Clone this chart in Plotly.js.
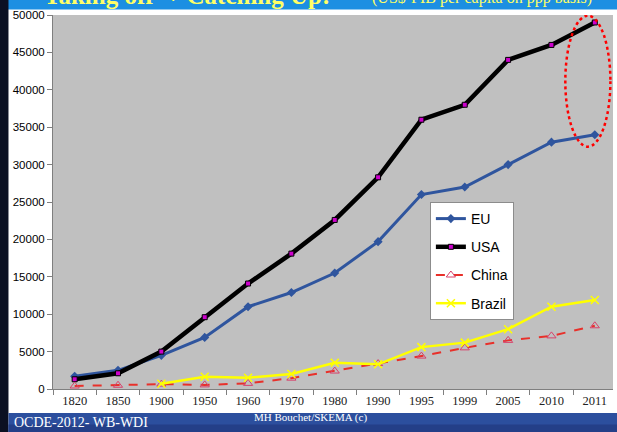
<!DOCTYPE html>
<html>
<head>
<meta charset="utf-8">
<script src="https://cdn.plot.ly/plotly-3.0.1.min.js"></script>
<style>
  html, body { margin: 0; padding: 0; background: #ffffff; }
  #chart { width: 617px; height: 432px; }
</style>
</head>
<body>
<div id="chart"></div>
<script>
// GDP per capita (US$, PPP basis)
const years  = ['1820','1850','1900','1950','1960','1970','1980','1990','1995','1999','2005','2010','2011'];
const eu     = [1700, 2500, 4500, 6900, 11000, 12900, 15500, 19700, 26000, 27000, 30000, 33000, 34000];
const usa    = [1300, 2100, 5000, 9600, 14100, 18100, 22600, 28300, 36000, 38000, 44000, 46000, 49000];
const china  = [400, 500, 650, 550, 750, 1450, 2400, 3400, 4400, 5500, 6500, 7100, 8450];
const brazil = [null, null, 700, 1650, 1500, 2000, 3500, 3300, 5600, 6200, 8000, 11000, 11900];

const traces = [
  {
    name: 'EU', x: years, y: eu, type: 'scatter', mode: 'lines+markers',
    line: { color: '#2f559e', width: 3 },
    marker: { symbol: 'diamond', size: 7, color: '#2f559e' },
    legendgroup: 'a'
  },
  {
    name: 'USA', x: years, y: usa, type: 'scatter', mode: 'lines+markers',
    line: { color: '#000000', width: 4.5 },
    marker: { symbol: 'square', size: 5, color: '#cc00cc', line: { color: '#000000', width: 1 } },
    legendgroup: 'b'
  },
  {
    name: 'China', x: years, y: china, type: 'scatter', mode: 'lines+markers',
    line: { color: '#e8302a', width: 2, dash: 'dash' },
    marker: { symbol: 'triangle-up-open', size: 8, color: '#d8406a', line: { width: 1 } },
    legendgroup: 'c'
  },
  {
    name: 'Brazil', x: years, y: brazil, type: 'scatter', mode: 'lines+markers',
    line: { color: '#ffff00', width: 2.5 },
    marker: { symbol: 'x-thin-open', size: 8, color: '#ffff00', line: { width: 1.5, color: '#ffff00' } },
    connectgaps: false,
    legendgroup: 'd'
  }
];

const layout = {
  width: 617, height: 432,
  margin: { l: 53, r: 4, t: 15, b: 43 },
  paper_bgcolor: '#ffffff',
  plot_bgcolor: '#c0c0c0',
  showlegend: true,
  legend: {
    x: 0.673, y: 0.5, xanchor: 'left', yanchor: 'top',
    bgcolor: '#ffffff', bordercolor: '#8c8c8c', borderwidth: 1,
    font: { family: 'Liberation Sans, Arial, sans-serif', size: 14, color: '#000000' },
    traceorder: 'grouped', tracegroupgap: 7
  },
  xaxis: {
    type: 'category', range: [-0.5, 12.42],
    showgrid: false, zeroline: false,
    showline: true, linecolor: '#7f7f7f', linewidth: 1,
    ticks: 'outside', tickson: 'boundaries', ticklen: 5, tickcolor: '#7f7f7f',
    tickfont: { family: 'Liberation Serif, Times New Roman, serif', size: 12.5, color: '#222222' }
  },
  yaxis: {
    range: [0, 50000], dtick: 5000, tickformat: 'd',
    showgrid: false, zeroline: false,
    showline: true, linecolor: '#7f7f7f', linewidth: 1,
    ticks: 'outside', ticklen: 5, tickcolor: '#7f7f7f',
    tickfont: { family: 'Liberation Sans, Arial, sans-serif', size: 11.5, color: '#000000' }
  },
  shapes: [
    // slide frame: top band, left strip, footer band
    { type: 'rect', xref: 'paper', yref: 'paper', x0: -0.2, x1: 1.2, y0: 1.0147, y1: 1.1,
      fillcolor: '#1c8fe2', line: { width: 0 } },
    { type: 'rect', xref: 'paper', yref: 'paper', x0: -0.2, x1: -0.0795, y0: -0.2, y1: 1.1,
      fillcolor: '#0b1022', line: { width: 0 } },
    { type: 'rect', xref: 'paper', yref: 'paper', x0: -0.0795, x1: 1.2, y0: -0.2, y1: -0.0642,
      fillcolor: '#2c4f9e', line: { width: 0 } },
    { type: 'rect', xref: 'paper', yref: 'paper', x0: -0.0795, x1: 1.2, y0: -0.2, y1: -0.095,
      fillcolor: '#243f88', line: { width: 0 } },
    // highlight ring around the latest values
    { type: 'circle', xref: 'x', yref: 'y', x0: 11.32, x1: 12.36, y0: 32400, y1: 49900,
      line: { color: '#ff0000', width: 2.5, dash: 'dot' }, fillcolor: 'rgba(0,0,0,0)' }
  ],
  annotations: [
    { text: '<b>Taking off  + Catching Up:</b>', xref: 'paper', yref: 'paper',
      x: 0.239, y: 1.012, xanchor: 'center', yanchor: 'bottom', showarrow: false,
      font: { family: 'Liberation Serif, Times New Roman, serif', size: 25, color: '#ffff66' } },
    { text: '(US$-PIB per capita on ppp basis)', xref: 'paper', yref: 'paper',
      x: 0.766, y: 1.016, xanchor: 'center', yanchor: 'bottom', showarrow: false,
      font: { family: 'Liberation Serif, Times New Roman, serif', size: 16, color: '#ffff66' } },
    { text: 'OCDE-2012- WB-WDI', xref: 'paper', yref: 'paper',
      x: -0.0732, y: -0.0909, xanchor: 'left', yanchor: 'middle', showarrow: false,
      font: { family: 'Liberation Serif, Times New Roman, serif', size: 14, color: '#ffffff' } },
    { text: 'MH Bouchet/SKEMA (c)', xref: 'paper', yref: 'paper',
      x: 0.46, y: -0.0775, xanchor: 'center', yanchor: 'middle', showarrow: false,
      font: { family: 'Liberation Serif, Times New Roman, serif', size: 11, color: '#ffffff' } }
  ]
};

Plotly.newPlot('chart', traces, layout, { displayModeBar: false, staticPlot: true });
</script>
</body>
</html>
